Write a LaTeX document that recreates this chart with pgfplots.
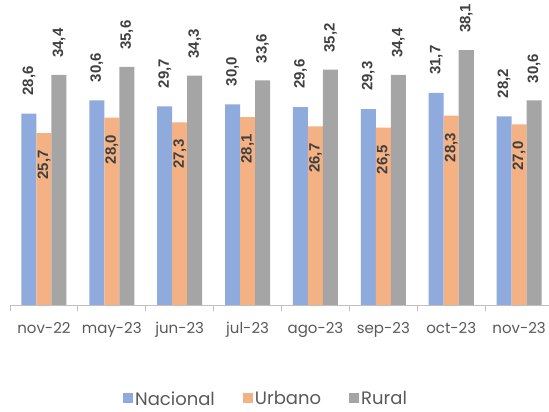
\documentclass[border=0pt]{standalone}
\usepackage{pgfplots}
\pgfplotsset{compat=1.18}
\usepackage{fontspec}
\setmainfont{Poppins}
\newfontfamily\lblfont{Liberation Sans}
\definecolor{nac}{HTML}{8FAADC}
\definecolor{urb}{HTML}{F4B183}
\definecolor{rur}{HTML}{A5A5A5}
\definecolor{axgray}{HTML}{BFBFBF}
\definecolor{txtgray}{HTML}{595959}
\definecolor{lblgray}{HTML}{404040}
\pgfplotstableread{
x nac urb rur
0 28.6 25.7 34.4
1 30.6 28.0 35.6
2 29.7 27.3 34.3
3 30.0 28.1 33.6
4 29.6 26.7 35.2
5 29.3 26.5 34.4
6 31.7 28.3 38.1
7 28.2 27.0 30.6
}\datatable
\begin{document}
\begin{tikzpicture}
\useasboundingbox (0,0) rectangle (549bp,412bp);
\begin{axis}[
  at={(10bp,107bp)}, anchor=south west,
  scale only axis, width=539bp, height=305bp,
  xmin=-0.5, xmax=7.44, ymin=0, ymax=45.6,
  ybar=0pt, bar width=15bp,
  axis x line*=bottom, axis y line=none,
  axis line style={draw=axgray, line width=0.8bp},
  xtick={0,...,7},
  xticklabels={nov-22,may-23,jun-23,jul-23,ago-23,sep-23,oct-23,nov-23},
  major tick length=0pt,
  xticklabel style={font=\fontsize{15bp}{18bp}\selectfont, text=txtgray, anchor=north, yshift=-14bp},
  extra x ticks={-0.5,0.5,...,6.5},
  extra x tick labels={},
  extra x tick style={major tick length=6bp, tick align=outside, tick style={draw=axgray, line width=0.8bp}},
  ytick=\empty,
  legend columns=3,
  legend style={at={(0.475,-0.308)}, anchor=center, draw=none, fill=none,
    font=\fontsize{18bp}{21bp}\selectfont, text=txtgray,
    nodes={inner xsep=2bp},
    /tikz/every even column/.append style={column sep=26bp}},
  legend image code/.code={\fill[#1] (0bp,-4bp) rectangle (10bp,6bp);},
  nodes near coords={\pgfmathprintnumber[fixed,fixed zerofill,precision=1,use comma,assume math mode=true]{\pgfplotspointmeta}},
]
\addplot[fill=nac, draw=none,
  nodes near coords align={anchor=west},
  every node near coord/.append style={rotate=90, anchor=west, inner xsep=18bp, inner ysep=0pt,
    font=\lblfont\bfseries\fontsize{15bp}{18bp}\selectfont, text=lblgray}]
  table[x=x, y=nac] {\datatable};
\addplot[fill=urb, draw=none,
  nodes near coords align={anchor=east},
  every node near coord/.append style={rotate=90, anchor=east, inner xsep=17bp, inner ysep=0pt,
    font=\lblfont\bfseries\fontsize{15bp}{18bp}\selectfont, text=lblgray}]
  table[x=x, y=urb] {\datatable};
\addplot[fill=rur, draw=none,
  nodes near coords align={anchor=west},
  every node near coord/.append style={rotate=90, anchor=west, inner xsep=17bp, inner ysep=0pt,
    font=\lblfont\bfseries\fontsize{15bp}{18bp}\selectfont, text=lblgray}]
  table[x=x, y=rur] {\datatable};
\legend{Nacional, Urbano, Rural}
\end{axis}
\end{tikzpicture}
\end{document}
